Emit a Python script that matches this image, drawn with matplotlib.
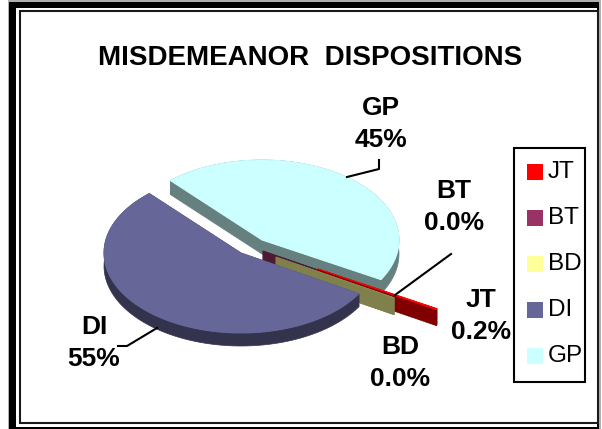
"""
Misdemeanor dispositions, tilted and exploded pie with a hand made 3D look
"""
import numpy as np
import matplotlib
matplotlib.use("Agg")
import matplotlib.pyplot as plt
from matplotlib.patches import Polygon, Rectangle

plt.rcParams['font.family'] = ['Liberation Sans', 'DejaVu Sans']

# clockwise from the start angle
labels = ['GP', 'JT', 'BT', 'BD', 'DI']
values = [44.9, 0.2, 0.02, 0.02, 54.8]
colors = ['#CCFFFF', '#FF0000', '#993366', '#FFFF99', '#666699']
legend_order = ['JT', 'BT', 'BD', 'DI', 'GP']

# where each slice apex lands, in pixels, once exploded
centers = {'GP': (262, 240), 'JT': (318, 269), 'BT': (263, 251),
           'BD': (276, 257), 'DI': (241, 253)}
depths = {'GP': 14, 'JT': 16, 'BT': 14, 'BD': 17, 'DI': 13}
RX, RY = 137, 80
START = 132

fig = plt.figure(figsize=(6.02, 4.29), dpi=100)
ax = fig.add_axes([0, 0, 1, 1])
ax.set_xlim(0, 602)
ax.set_ylim(429, 0)
ax.axis('off')

# frame, thick on the left and top, thin on the right and bottom
ax.add_patch(Rectangle((8, 0), 593, 429, fc='#b0b0b0', ec='none'))
ax.add_patch(Rectangle((9, 2), 590, 427, fc='black', ec='none'))
ax.add_patch(Rectangle((16, 8), 581, 419, fc='white', ec='none'))
ax.add_patch(Rectangle((19.5, 11), 578, 412, fc='white', ec='#1a1a1a', lw=1.5))


def darker(color):
    return tuple(c * 0.5 for c in matplotlib.colors.to_rgb(color))


def draw_slice(name, a0, a1, color, edge):
    cx, cy = centers[name]
    depth = depths[name]
    t = np.radians(np.linspace(a0, a1, 120))
    x = cx + RX * np.cos(t)
    y = cy - RY * np.sin(t)
    side = darker(color)
    # walls go first, the top surface hides whatever faces away
    rim = np.r_[np.c_[x, y], np.c_[x, y + depth][::-1]]
    ax.add_patch(Polygon(rim, fc=side, ec=side, lw=0.5))
    for px, py in [(x[0], y[0]), (x[-1], y[-1])]:
        wall = [(cx, cy), (px, py), (px, py + depth), (cx, cy + depth)]
        ax.add_patch(Polygon(wall, fc=side, ec=side, lw=0.5))
    top = np.r_[[(cx, cy)], np.c_[x, y]]
    ax.add_patch(Polygon(top, fc=color, ec=color if edge else 'none', lw=0.7))


sweeps = np.array(values) / sum(values) * 360
ends = START - np.cumsum(sweeps)
starts = ends + sweeps
by_name = {n: (s, e, c, v) for n, s, e, c, v in zip(labels, starts, ends, colors, values)}
for name in ['GP', 'BT', 'JT', 'BD', 'DI']:
    a0, a1, col, v = by_name[name]
    draw_slice(name, a0, a1, col, v >= 0.1)

# leader lines
ax.plot([379, 379, 347], [160, 169, 177], color='black', lw=1.5)
ax.plot([451, 395], [254, 295], color='black', lw=1.5)
ax.plot([157, 127, 118], [328, 346, 346], color='black', lw=1.5)

ax.text(310.5, 58, 'MISDEMEANOR  DISPOSITIONS', ha='center', va='center',
        fontsize=20, fontweight='bold')

text_pos = {'GP': (381, 124), 'BT': (454, 207), 'JT': (481, 316),
            'BD': (400, 363), 'DI': (94, 343)}
for name, (tx, ty) in text_pos.items():
    v = by_name[name][3]
    pct = f'{v:.0f}%' if v >= 1 else f'{v:.1f}%'
    ax.text(tx, ty, f'{name}\n{pct}', ha='center', va='center', fontsize=19,
            fontweight='bold', linespacing=1.45)

# legend
ax.add_patch(Rectangle((514, 148), 71, 234, fc='white', ec='black', lw=1.5))
for i, name in enumerate(legend_order):
    yc = 172 + i * 46
    ax.add_patch(Rectangle((527, yc - 8), 16, 16, fc=by_name[name][2], ec='none'))
    ax.text(548, yc, name, ha='left', va='center', fontsize=17.5)

fig.savefig('out.png', dpi=100)
